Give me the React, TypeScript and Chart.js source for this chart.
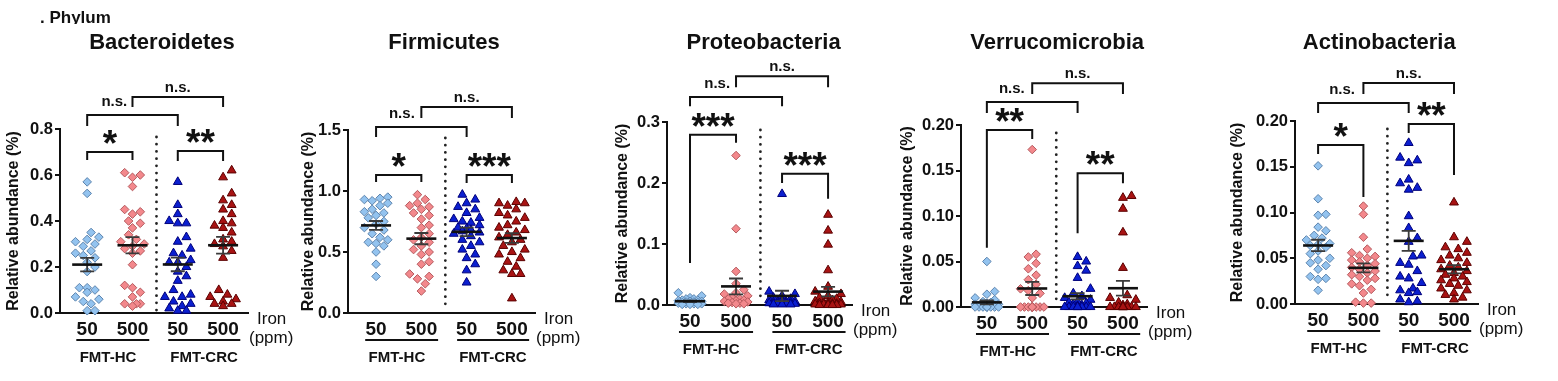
import React, { useEffect, useRef } from 'react';
import { Chart, registerables } from 'chart.js';

Chart.register(...registerables);

const FONT = '"Liberation Sans", Arial, Helvetica, sans-serif';
const H = 381;

// ---------- labels ----------
const doseLabels = ['50', '500', '50', '500'];
const cohortLabels = ['FMT-HC', 'FMT-CRC'];
const groupNames = ['FMT-HC 50 ppm', 'FMT-HC 500 ppm', 'FMT-CRC 50 ppm', 'FMT-CRC 500 ppm'];
const yAxisTitle = 'Relative abundance (%)';

// ---------- Bacteroidetes ----------
const bactHC50 = [0.57, 0.52, 0.35, 0.33, 0.32, 0.31, 0.30, 0.29, 0.27, 0.26, 0.25, 0.24, 0.22, 0.20, 0.18, 0.11, 0.11, 0.10, 0.09, 0.07, 0.06, 0.05, 0.04, 0.01, 0.01];
const bactHC500 = [0.61, 0.60, 0.59, 0.55, 0.45, 0.44, 0.43, 0.40, 0.39, 0.37, 0.34, 0.32, 0.31, 0.30, 0.29, 0.28, 0.27, 0.26, 0.21, 0.12, 0.11, 0.09, 0.07, 0.04, 0.04, 0.04, 0.03];
const bactCRC50 = [0.57, 0.47, 0.43, 0.40, 0.39, 0.39, 0.33, 0.31, 0.28, 0.26, 0.25, 0.23, 0.22, 0.22, 0.20, 0.18, 0.16, 0.14, 0.10, 0.08, 0.07, 0.07, 0.05, 0.04, 0.03, 0.02, 0.01, 0.01];
const bactCRC500 = [0.62, 0.59, 0.52, 0.49, 0.47, 0.45, 0.43, 0.40, 0.39, 0.38, 0.37, 0.35, 0.32, 0.31, 0.30, 0.29, 0.27, 0.24, 0.10, 0.08, 0.07, 0.06, 0.05, 0.04, 0.04, 0.03];
const bactTicks = [0, 0.2, 0.4, 0.6, 0.8];

// ---------- Firmicutes ----------
const firmHC50 = [0.95, 0.94, 0.93, 0.92, 0.90, 0.88, 0.85, 0.83, 0.82, 0.80, 0.78, 0.75, 0.73, 0.70, 0.68, 0.65, 0.62, 0.60, 0.58, 0.57, 0.55, 0.50, 0.40, 0.30];
const firmHC500 = [0.97, 0.93, 0.90, 0.88, 0.87, 0.85, 0.82, 0.80, 0.77, 0.72, 0.70, 0.65, 0.62, 0.60, 0.58, 0.55, 0.52, 0.50, 0.48, 0.42, 0.40, 0.32, 0.30, 0.28, 0.24, 0.18];
const firmCRC50 = [0.97, 0.93, 0.90, 0.87, 0.85, 0.82, 0.78, 0.77, 0.75, 0.74, 0.72, 0.70, 0.69, 0.68, 0.67, 0.66, 0.65, 0.63, 0.60, 0.58, 0.55, 0.52, 0.48, 0.45, 0.40, 0.35, 0.25];
const firmCRC500 = [0.91, 0.90, 0.90, 0.88, 0.85, 0.82, 0.80, 0.78, 0.75, 0.72, 0.70, 0.68, 0.66, 0.64, 0.62, 0.60, 0.58, 0.55, 0.52, 0.50, 0.48, 0.45, 0.42, 0.38, 0.35, 0.32, 0.32, 0.12];
const firmTicks = [0, 0.5, 1.0, 1.5];

// ---------- Proteobacteria ----------
const protHC50 = [0.020, 0.015, 0.012, 0.010, 0.010, 0.008, 0.008, 0.007, 0.006, 0.006, 0.005, 0.005, 0.004, 0.004, 0.003, 0.003, 0.002, 0.002, 0.002, 0.001, 0.001, 0.001];
const protHC500 = [0.245, 0.125, 0.055, 0.035, 0.025, 0.020, 0.018, 0.015, 0.012, 0.010, 0.010, 0.008, 0.007, 0.006, 0.005, 0.004, 0.003, 0.003, 0.002, 0.002];
const protCRC50 = [0.182, 0.022, 0.018, 0.015, 0.012, 0.010, 0.008, 0.007, 0.006, 0.005, 0.005, 0.004, 0.004, 0.003, 0.003, 0.002, 0.002, 0.002, 0.001, 0.001, 0.001];
const protCRC500 = [0.148, 0.122, 0.099, 0.057, 0.030, 0.022, 0.018, 0.015, 0.012, 0.010, 0.008, 0.006, 0.005, 0.004, 0.004, 0.003, 0.002, 0.002, 0.001, 0.001, 0.001, 0.001, 0.000, 0.000, 0.000, 0.000];
const protTicks = [0, 0.1, 0.2, 0.3];

// ---------- Verrucomicrobia ----------
const verrHC50 = [0.050, 0.017, 0.014, 0.010, 0.008, 0.006, 0.005, 0.004, 0.003, 0.003, 0.002, 0.002, 0.001, 0.001, 0.001, 0, 0, 0, 0, 0, 0, 0, 0, 0, 0];
const verrHC500 = [0.173, 0.058, 0.055, 0.048, 0.042, 0.035, 0.030, 0.025, 0.020, 0.018, 0.015, 0.010, 0, 0, 0, 0, 0, 0, 0, 0, 0, 0, 0, 0, 0, 0];
const verrCRC50 = [0.055, 0.050, 0.045, 0.040, 0.032, 0.020, 0.015, 0.012, 0.010, 0.008, 0.006, 0.005, 0.004, 0.003, 0.002, 0.001, 0, 0, 0, 0, 0, 0, 0, 0, 0, 0];
const verrCRC500 = [0.122, 0.120, 0.108, 0.082, 0.043, 0.013, 0.010, 0.008, 0.005, 0.003, 0.002, 0, 0, 0, 0, 0, 0, 0, 0, 0, 0, 0, 0, 0, 0];
const verrTicks = [0, 0.05, 0.10, 0.15, 0.20];

// ---------- Actinobacteria ----------
const actiHC50 = [0.151, 0.115, 0.098, 0.097, 0.084, 0.080, 0.075, 0.072, 0.070, 0.066, 0.065, 0.064, 0.062, 0.058, 0.055, 0.050, 0.048, 0.045, 0.042, 0.038, 0.030, 0.028, 0.027, 0.015];
const actiHC500 = [0.107, 0.098, 0.073, 0.060, 0.056, 0.053, 0.052, 0.050, 0.048, 0.046, 0.044, 0.042, 0.040, 0.038, 0.036, 0.034, 0.032, 0.030, 0.028, 0.026, 0.022, 0.020, 0.016, 0.012, 0.002, 0.001, 0.001];
const actiCRC50 = [0.176, 0.160, 0.157, 0.154, 0.136, 0.132, 0.127, 0.125, 0.096, 0.083, 0.072, 0.068, 0.053, 0.052, 0.045, 0.043, 0.036, 0.030, 0.028, 0.023, 0.017, 0.015, 0.013, 0.012, 0.005, 0.003, 0.002];
const actiCRC500 = [0.111, 0.073, 0.068, 0.062, 0.060, 0.056, 0.053, 0.050, 0.048, 0.045, 0.042, 0.040, 0.038, 0.036, 0.034, 0.032, 0.030, 0.028, 0.026, 0.024, 0.022, 0.020, 0.017, 0.015, 0.012, 0.010, 0.007, 0.005];
const actiTicks = [0, 0.05, 0.10, 0.15, 0.20];

// ---------- styles ----------
const groupStyles = [
  { pointStyle: 'rectRot', radius: 4.3, fill: '#93c3ef', stroke: '#5d84ad' },
  { pointStyle: 'rectRot', radius: 4.3, fill: '#f3888c', stroke: '#b4595d' },
  { pointStyle: 'triangle', radius: 5.1, fill: '#0b1fd0', stroke: '#00007a' },
  { pointStyle: 'triangle', radius: 5.1, fill: '#a81313', stroke: '#5a0000' },
];

type Bracket = { from: number; to: number; top: number; left: number; right: number; label: string; labelX?: number };
type Panel = {
  title: string; groups: number[][]; yTicks: number[]; decimals: number;
  canvasLeft: number; canvasWidth: number;
  area: { left: number; right: number; top: number; bottom: number };
  xMin: number; xMax: number; titleX: number; brackets: Bracket[]; phylum?: boolean;
};

const panels: Panel[] = [
  {
    title: 'Bacteroidetes', groups: [bactHC50, bactHC500, bactCRC50, bactCRC500], yTicks: bactTicks, decimals: 1,
    canvasLeft: 0, canvasWidth: 295, area: { left: 60, right: 248, top: 129, bottom: 313 },
    xMin: -0.6, xMax: 3.55, titleX: 1.65, phylum: true,
    brackets: [
      { from: 0, to: 2, top: 0.861, left: 0.813, right: 0.813, label: 'n.s.', labelX: 0.6 },
      { from: 1, to: 3, top: 0.939, left: 0.896, right: 0.896, label: 'n.s.' },
      { from: 0, to: 1, top: 0.700, left: 0.665, right: 0.665, label: '*' },
      { from: 2, to: 3, top: 0.704, left: 0.661, right: 0.661, label: '**' },
    ],
  },
  {
    title: 'Firmicutes', groups: [firmHC50, firmHC500, firmCRC50, firmCRC500], yTicks: firmTicks, decimals: 1,
    canvasLeft: 295, canvasWidth: 300, area: { left: 348, right: 535, top: 130, bottom: 313 },
    xMin: -0.62, xMax: 3.51, titleX: 1.5,
    brackets: [
      { from: 0, to: 2, top: 1.525, left: 1.443, right: 1.443, label: 'n.s.', labelX: 0.57 },
      { from: 1, to: 3, top: 1.689, left: 1.598, right: 1.598, label: 'n.s.' },
      { from: 0, to: 1, top: 1.131, left: 1.074, right: 1.074, label: '*' },
      { from: 2, to: 3, top: 1.131, left: 1.066, right: 1.066, label: '***' },
    ],
  },
  {
    title: 'Proteobacteria', groups: [protHC50, protHC500, protCRC50, protCRC500], yTicks: protTicks, decimals: 1,
    canvasLeft: 609, canvasWidth: 290, area: { left: 667, right: 852, top: 122, bottom: 305 },
    xMin: -0.5, xMax: 3.52, titleX: 1.6,
    brackets: [
      { from: 0, to: 2, top: 0.341, left: 0.326, right: 0.326, label: 'n.s.', labelX: 0.59 },
      { from: 1, to: 3, top: 0.375, left: 0.357, right: 0.357, label: 'n.s.' },
      { from: 0, to: 1, top: 0.279, left: 0.069, right: 0.266, label: '***' },
      { from: 2, to: 3, top: 0.215, left: 0.200, right: 0.174, label: '***' },
    ],
  },
  {
    title: 'Verrucomicrobia', groups: [verrHC50, verrHC500, verrCRC50, verrCRC500], yTicks: verrTicks, decimals: 2,
    canvasLeft: 894, canvasWidth: 310, area: { left: 961, right: 1147, top: 125, bottom: 307 },
    xMin: -0.57, xMax: 3.53, titleX: 1.55,
    brackets: [
      { from: 0, to: 2, top: 0.2253, left: 0.2132, right: 0.2132, label: 'n.s.', labelX: 0.55 },
      { from: 1, to: 3, top: 0.246, left: 0.234, right: 0.234, label: 'n.s.' },
      { from: 0, to: 1, top: 0.1945, left: 0.065, right: 0.1846, label: '**' },
      { from: 2, to: 3, top: 0.147, left: 0.081, right: 0.136, label: '**' },
    ],
  },
  {
    title: 'Actinobacteria', groups: [actiHC50, actiHC500, actiCRC50, actiCRC500], yTicks: actiTicks, decimals: 2,
    canvasLeft: 1224, canvasWidth: 334, area: { left: 1295, right: 1478, top: 121, bottom: 304 },
    xMin: -0.51, xMax: 3.53, titleX: 1.35,
    brackets: [
      { from: 0, to: 2, top: 0.2197, left: 0.2087, right: 0.2087, label: 'n.s.', labelX: 0.53 },
      { from: 1, to: 3, top: 0.2415, left: 0.2295, right: 0.2295, label: 'n.s.' },
      { from: 0, to: 1, top: 0.1738, left: 0.164, right: 0.117, label: '*' },
      { from: 2, to: 3, top: 0.1967, left: 0.187, right: 0.141, label: '**' },
    ],
  },
];

// deterministic beeswarm spreading (pixel space), returns x offsets in category units
function beeswarm(values: number[], pxPerY: number, pxPerX: number, diameter: number, maxOffset: number): number[] {
  const order = values.map((_, i) => i).sort((a, b) => values[a] - values[b]);
  const placed: { x: number; y: number }[] = [];
  const out = new Array(values.length).fill(0);
  const half = diameter / 2;
  const cands: number[] = [0];
  for (let k = 1; k * half <= maxOffset + 0.01; k++) cands.push(k * half, -k * half);
  for (const i of order) {
    const y = values[i] * pxPerY;
    let chosen = 0;
    let best = -1;
    for (const c of cands) {
      let minD = Infinity;
      for (const p of placed) {
        const d = Math.hypot(p.x - c, p.y - y);
        if (d < minD) minD = d;
      }
      if (minD >= diameter) { chosen = c; best = Infinity; break; }
      if (minD > best + 0.5) { best = minD; chosen = c; }
    }
    placed.push({ x: chosen, y });
    out[i] = chosen / pxPerX;
  }
  return out;
}

function meanSem(v: number[]) {
  const n = v.length;
  const m = v.reduce((a, b) => a + b, 0) / n;
  const sd = Math.sqrt(v.reduce((a, b) => a + (b - m) * (b - m), 0) / (n - 1));
  return { m, sem: sd / Math.sqrt(n) };
}

function inkText(ctx: CanvasRenderingContext2D, text: string, x: number, cy: number) {
  const mt = ctx.measureText(text);
  const asc = mt.actualBoundingBoxAscent;
  const desc = mt.actualBoundingBoxDescent;
  ctx.textBaseline = 'alphabetic';
  ctx.fillText(text, x, cy + (asc - desc) / 2);
}

function makePlugin(p: Panel) {
  return {
    id: 'panelDecor',
    beforeDatasetsDraw(chart: any) {
      const { ctx, chartArea } = chart;
      const xs = chart.scales.x;
      const x = xs.getPixelForValue(1.53);
      ctx.save();
      ctx.strokeStyle = '#222';
      ctx.lineWidth = 2.8;
      ctx.lineCap = 'round';
      ctx.setLineDash([0.01, 7.2]);
      ctx.beginPath();
      ctx.moveTo(x, chartArea.top + 8);
      ctx.lineTo(x, chartArea.bottom - 2);
      ctx.stroke();
      ctx.restore();
    },
    afterDatasetsDraw(chart: any) {
      const { ctx } = chart;
      const xs = chart.scales.x;
      const ys = chart.scales.y;
      ctx.save();
      p.groups.forEach((g, i) => {
        const { m, sem } = meanSem(g);
        const cx = xs.getPixelForValue(i);
        const ym = ys.getPixelForValue(m);
        const yt = ys.getPixelForValue(m + sem);
        const yb = ys.getPixelForValue(Math.max(0, m - sem));
        ctx.strokeStyle = '#3a3a3a';
        ctx.lineWidth = 1.8;
        ctx.beginPath();
        ctx.moveTo(cx, yt); ctx.lineTo(cx, yb);
        ctx.moveTo(cx - 7, yt); ctx.lineTo(cx + 7, yt);
        ctx.moveTo(cx - 7, yb); ctx.lineTo(cx + 7, yb);
        ctx.stroke();
        ctx.strokeStyle = '#111';
        ctx.lineWidth = 2.6;
        ctx.beginPath();
        ctx.moveTo(cx - 15, ym); ctx.lineTo(cx + 15, ym);
        ctx.stroke();
      });
      ctx.restore();
    },
    afterDraw(chart: any) {
      const { ctx, chartArea } = chart;
      const xs = chart.scales.x;
      const ys = chart.scales.y;
      ctx.save();
      ctx.fillStyle = '#111';
      ctx.strokeStyle = '#111';
      ctx.textAlign = 'center';
      // title
      ctx.font = `bold 22px ${FONT}`;
      ctx.textBaseline = 'middle';
      ctx.fillText(p.title, xs.getPixelForValue(p.titleX), 43);
      if (p.phylum) {
        ctx.save();
        ctx.beginPath();
        ctx.rect(0, 0, 200, 24);
        ctx.clip();
        ctx.font = `bold 17px ${FONT}`;
        ctx.textAlign = 'left';
        ctx.textBaseline = 'alphabetic';
        ctx.fillText('. Phylum', 40, 22.5);
        ctx.restore();
      }
      // brackets
      ctx.lineWidth = 2;
      ctx.lineJoin = 'miter';
      ctx.textAlign = 'center';
      p.brackets.forEach((b) => {
        const x1 = xs.getPixelForValue(b.from);
        const x2 = xs.getPixelForValue(b.to);
        const yT = ys.getPixelForValue(b.top);
        ctx.beginPath();
        ctx.moveTo(x1, ys.getPixelForValue(b.left));
        ctx.lineTo(x1, yT);
        ctx.lineTo(x2, yT);
        ctx.lineTo(x2, ys.getPixelForValue(b.right));
        ctx.stroke();
        const lx = b.labelX !== undefined ? xs.getPixelForValue(b.labelX) : (x1 + x2) / 2;
        if (b.label === 'n.s.') {
          ctx.font = `bold 15px ${FONT}`;
          inkText(ctx, b.label, lx, yT - 9);
        } else {
          ctx.font = `bold 37px ${FONT}`;
          inkText(ctx, b.label, lx, yT - 15);
        }
      });
      // Iron (ppm)
      const bottom = chartArea.bottom;
      ctx.font = `17px ${FONT}`;
      ctx.textAlign = 'left';
      ctx.textBaseline = 'middle';
      ctx.fillText('Iron', chartArea.right + 9, bottom + 6);
      ctx.fillText('(ppm)', chartArea.right + 1, bottom + 25);
      // cohort underlines and labels
      ctx.textAlign = 'center';
      ctx.lineWidth = 2;
      const spans = [[-0.24, 1.37], [1.79, 3.38]];
      const centers = [0.46, 2.58];
      spans.forEach((s, i) => {
        ctx.beginPath();
        ctx.moveTo(xs.getPixelForValue(s[0]), bottom + 27);
        ctx.lineTo(xs.getPixelForValue(s[1]), bottom + 27);
        ctx.stroke();
        ctx.font = `bold 15px ${FONT}`;
        ctx.fillText(cohortLabels[i], xs.getPixelForValue(centers[i]), bottom + 45);
      });
      ctx.restore();
    },
  };
}

function buildConfig(p: Panel): any {
  const { area } = p;
  const yMax = p.yTicks[p.yTicks.length - 1];
  const pxPerY = (area.bottom - area.top) / yMax;
  const pxPerX = (area.right - area.left) / (p.xMax - p.xMin);
  const datasets = p.groups.map((g, i) => {
    const st = groupStyles[i];
    const offs = beeswarm(g, pxPerY, pxPerX, i < 2 ? 7.8 : 8.6, 15);
    return {
      label: groupNames[i],
      data: g.map((v, j) => ({ x: i + offs[j], y: v })),
      pointStyle: st.pointStyle,
      pointRadius: st.radius,
      pointBackgroundColor: st.fill,
      pointBorderColor: st.stroke,
      pointBorderWidth: 1,
      showLine: false,
      clip: false,
    };
  });
  return {
    type: 'scatter',
    data: { datasets },
    options: {
      responsive: false,
      animation: false,
      devicePixelRatio: 1,
      events: [],
      layout: { padding: { top: area.top, right: p.canvasLeft + p.canvasWidth - area.right, bottom: 0, left: 0 } },
      plugins: { legend: { display: false }, tooltip: { enabled: false }, title: { display: false } },
      scales: {
        x: {
          type: 'linear', min: p.xMin, max: p.xMax,
          afterFit: (s: any) => { s.height = H - area.bottom; },
          afterBuildTicks: (s: any) => { s.ticks = doseLabels.map((_, i) => ({ value: i })); },
          ticks: {
            callback: (v: any) => doseLabels[Math.round(Number(v))] ?? '',
            font: { family: FONT, size: 19, weight: 'bold' }, color: '#111', padding: 5,
            autoSkip: false, maxRotation: 0, minRotation: 0,
          },
          grid: { display: true, drawOnChartArea: false, drawTicks: false },
          border: { display: true, color: '#111', width: 2 },
        },
        y: {
          type: 'linear', min: 0, max: yMax,
          afterFit: (s: any) => { s.width = area.left - p.canvasLeft; },
          afterBuildTicks: (s: any) => { s.ticks = p.yTicks.map((v) => ({ value: v })); },
          ticks: {
            callback: (v: any) => Number(v).toFixed(p.decimals),
            font: { family: FONT, size: 16.5, weight: 'bold' }, color: '#111', padding: 2,
          },
          grid: { display: true, drawOnChartArea: false, drawTicks: true, tickLength: 5, color: '#111', lineWidth: 2 },
          border: { display: true, color: '#111', width: 2 },
          title: {
            display: true, text: yAxisTitle, color: '#111',
            font: { family: FONT, size: 16, weight: 'bold' }, padding: { top: 4, bottom: 0 },
          },
        },
      },
    },
    plugins: [makePlugin(p)],
  };
}

function PanelChart({ p }: { p: Panel }) {
  const ref = useRef<HTMLCanvasElement>(null);
  useEffect(() => {
    const chart = new Chart(ref.current as HTMLCanvasElement, buildConfig(p));
    return () => chart.destroy();
  }, [p]);
  return (
    <canvas
      ref={ref}
      width={p.canvasWidth}
      height={H}
      style={{ position: 'absolute', left: p.canvasLeft, top: 0, width: p.canvasWidth, height: H }}
    />
  );
}

export default function App() {
  return (
    <div style={{ position: 'absolute', left: 0, top: 0, width: 1558, height: H, background: '#fff', overflow: 'hidden' }}>
      {panels.map((p) => (
        <PanelChart key={p.title} p={p} />
      ))}
    </div>
  );
}
